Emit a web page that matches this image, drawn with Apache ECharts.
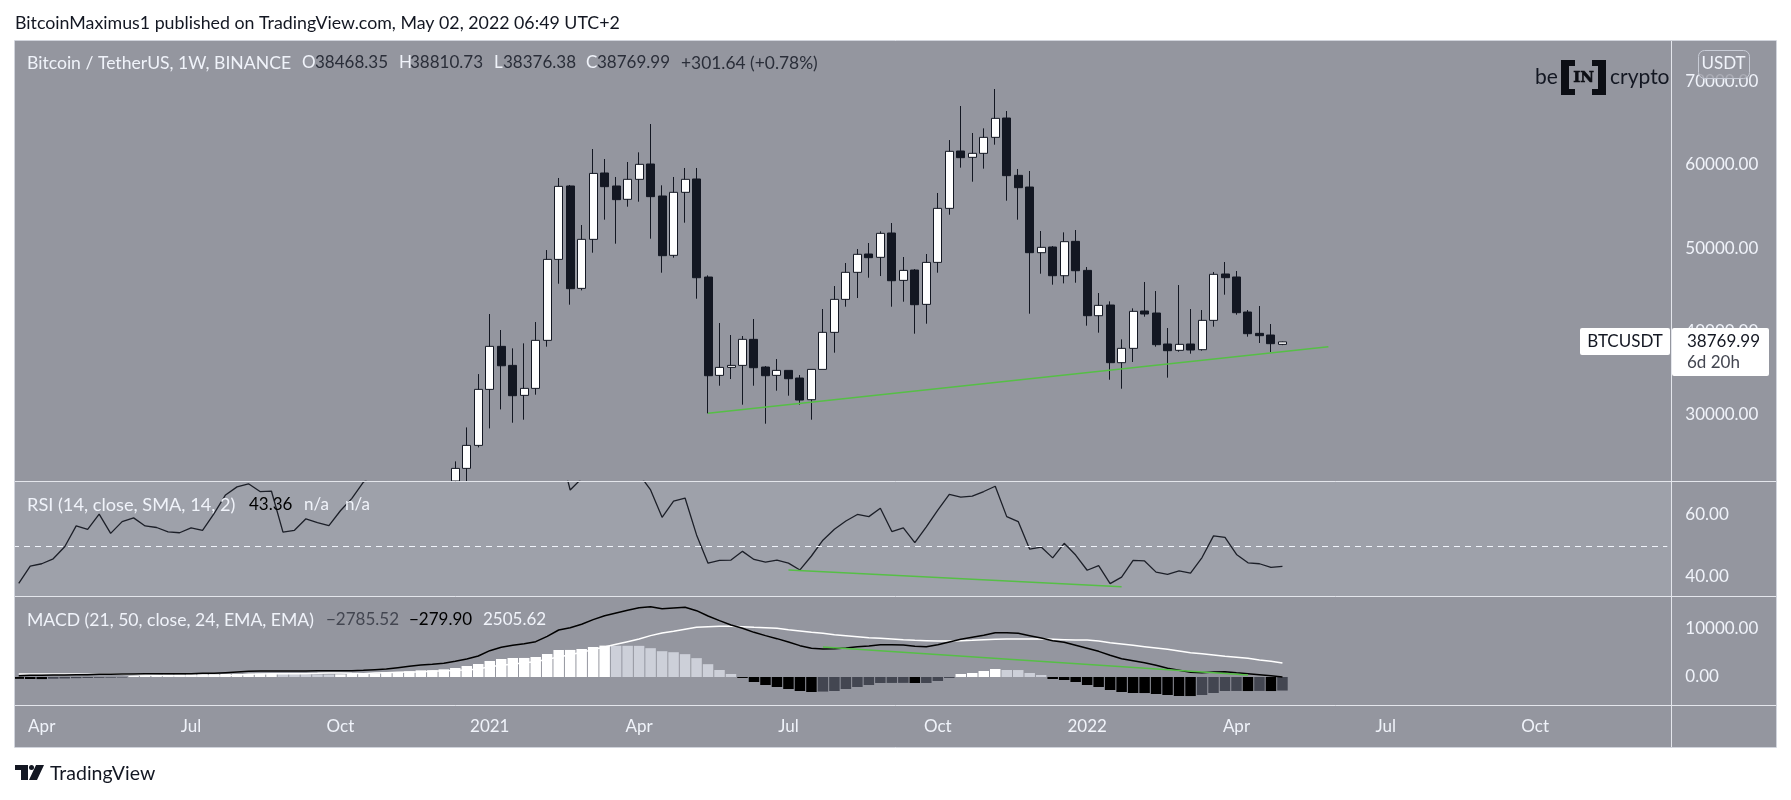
<!DOCTYPE html>
<html>
<head>
<meta charset="utf-8">
<style>
  html, body { margin: 0; background: #fff; }
  #chart { width: 1791px; height: 800px; }
</style>
<script src="https://cdn.jsdelivr.net/npm/echarts@6/dist/echarts.min.js"></script>
</head>
<body>
<div id="chart"></div>
<script>
// weekly bars, index 0 is the week of 2020-03-23
const weekCount = 144
const firstCandleWeek = 38

const tickWeeks = [2, 15, 28, 41, 54, 67, 80, 93, 106, 119, 132]
const tickLabels = ['Apr', 'Jul', 'Oct', '2021', 'Apr', 'Jul', 'Oct', '2022', 'Apr', 'Jul', 'Oct']

// first two bars run out of the bottom of the price pane, so they stop at the pane edge
const candleOpen = [22065, 23580, 26340, 33065, 38230, 35945, 32345, 33185, 38950, 48670, 57480, 45190, 51075,
  59040, 57480, 55880, 58280, 60120, 56280, 49155, 56720, 58320, 46550, 34745, 35705, 35945, 39070, 35745, 34745,
  35345, 34425, 31825, 35465, 39910, 43870, 47115, 49315, 48915, 51835, 46150, 47390, 43270, 48310, 54795, 61680,
  60920, 61400, 63320, 65640, 58760, 57355, 49475, 50155, 46710, 50835, 47350, 41910, 43190, 36270, 37990, 42470,
  42230, 38510, 37750, 38510, 37830, 41350, 46915, 46555, 42350, 39790, 39590, 38468.35]
const candleClose = [23580, 26340, 33065, 38230, 35900, 32305, 33185, 38950, 48670, 57435, 45150, 51075, 58990,
  57400, 55840, 58280, 60080, 56200, 49115, 56720, 58280, 46470, 34705, 35705, 35945, 39070, 35665, 34705, 35345,
  34345, 31785, 35465, 39910, 43870, 47115, 49275, 48875, 51795, 46110, 47350, 43230, 48310, 54795, 61640, 60880,
  61400, 63320, 65600, 58720, 57280, 49475, 50115, 46710, 50795, 47310, 41910, 43150, 36270, 37990, 42430, 42110,
  38430, 37710, 38470, 37790, 41350, 46875, 46475, 42270, 39750, 39510, 38550, 38769.99]
const candleHigh = [24420, 28500, 34900, 42110, 40190, 37990, 38590, 41150, 49790, 58440, 57600, 52795, 61920,
  60720, 58560, 60360, 61520, 64920, 57560, 58560, 59640, 59640, 46750, 41030, 39590, 39470, 41510, 35865, 36705,
  35345, 34785, 35465, 42710, 45470, 48235, 49915, 50635, 52035, 53035, 48955, 47510, 49315, 56640, 62995, 67080,
  63840, 64400, 69120, 66480, 59520, 59280, 52075, 50275, 51915, 52195, 47750, 44630, 43630, 39070, 42790, 45955,
  44870, 40430, 45590, 42710, 42590, 47155, 48355, 47275, 42590, 43070, 40910, 38810.73]
const candleLow = [22065, 22065, 26100, 28380, 30660, 29060, 29425, 32425, 38190, 45750, 43230, 44950, 49470,
  53435, 50555, 54995, 55595, 51155, 47070, 48875, 53075, 43950, 30185, 33505, 34305, 31225, 33505, 28945, 32905,
  32305, 31225, 29425, 35465, 37470, 42990, 44030, 46470, 46670, 42990, 43590, 39750, 40950, 47070, 54035, 59680,
  57995, 59560, 62440, 55715, 53435, 42150, 46950, 45630, 45790, 45870, 40710, 39870, 34225, 33145, 36350, 41790,
  38190, 34470, 37590, 37350, 37710, 40590, 44430, 42030, 39390, 38630, 37550, 38376.38]

const rsiValues = [37.9, 43.45, 44.2, 45.8, 49.7, 56.4, 55.3, 60.2, 54.0, 57.8,
  59.0, 56.4, 55.9, 54.5, 54.2, 55.8, 55.0, 60.4, 66.4, 69.0,
  70.0, 67.5, 67.6, 54.4, 55.0, 58.7, 57.5, 56.5, 61.3, 65.3,
  70.5, 73.4, 78, 80, 82, 79, 80, 84, 86, 88,
  90, 92, 89, 85, 84, 86, 88, 82.5, 68.0, 71.7,
  75, 76, 74, 75, 73.1, 68.0, 59.2, 64.4, 65.4, 53.5,
  44.4, 45.3, 45.4, 48.2, 45.6, 44.7, 45.4, 44.4, 42.2, 46.7,
  51.8, 55.3, 58.0, 60.1, 59.4, 62.1, 54.6, 55.8, 51.0, 56.1,
  61.5, 66.6, 65.7, 66.0, 67.5, 69.2, 59.4, 57.8, 48.9, 49.6,
  46.1, 50.8, 47.0, 42.1, 43.6, 37.8, 39.9, 45.3, 45.1, 41.5,
  40.8, 41.9, 41.2, 46.2, 53.2, 52.7, 47.2, 44.5, 44.2, 43.0, 43.36]

const macdLine = [270, 340, 340, 410, 410, 480, 480, 550, 550, 620,
  620, 690, 690, 690, 690, 690, 750, 750, 890, 1030,
  1170, 1230, 1230, 1230, 1230, 1230, 1270, 1300, 1300, 1300,
  1370, 1510, 1650, 1920, 2200, 2470, 2610, 2810, 3220, 3700,
  4320, 5420, 6110, 6520, 6860, 7270, 8370, 9670, 10150, 10840,
  11800, 12620, 13170, 13720, 14270, 14470, 14060, 14200, 14340, 13650,
  12550, 11590, 10700, 10020, 9190, 8510, 7890, 7200, 6450, 5900,
  5760, 5830, 5970, 6240, 6380, 6650, 6650, 6590, 6310, 6240,
  6650, 7200, 7750, 8160, 8580, 9120, 9120, 8990, 8510, 8030,
  7480, 7130, 6520, 5900, 5280, 4460, 3770, 3360, 2950, 2400,
  1780, 1370, 960, 890, 1030, 1100, 890, 690, 480, 270, 0]
const signalLine = [620, 620, 620, 620, 620, 620, 550, 550, 550, 550,
  480, 410, 340, 270, 210, 210, 210, 210, 270, 340,
  550, 620, 690, 690, 690, 690, 750, 820, 820, 750,
  690, 820, 890, 960, 1030, 1030, 1230, 1230, 1370, 1440,
  1650, 2130, 2400, 2610, 2950, 3160, 3640, 4120, 4600, 5080,
  5630, 6170, 6720, 7270, 7820, 8510, 9060, 9400, 9810, 10220,
  10360, 10430, 10430, 10360, 10220, 10150, 10020, 9740, 9470, 9190,
  8990, 8710, 8510, 8300, 8090, 7960, 7820, 7680, 7550, 7480,
  7410, 7410, 7480, 7550, 7680, 7750, 7820, 7820, 7820, 7820,
  7750, 7680, 7610, 7610, 7410, 7070, 6790, 6520, 6240, 5970,
  5690, 5350, 5010, 4800, 4530, 4250, 4050, 3840, 3500, 3220, 2880]
const macdHist = [-380, -410, -430, -350, -300, -240, -200, -160, -130, -100,
  200, 340, 410, 480, 490, 550, 560, 570, 620, 630,
  640, 690, 700, 640, 600, 560, 540, 510, 550, 620,
  690, 760, 960, 1030, 1170, 1370, 1390, 1580, 1850, 2260,
  2680, 3290, 3700, 3910, 3920, 4120, 4730, 5560, 5570, 5760,
  6170, 6460, 6430, 6420, 6410, 5930, 5310, 5100, 4700, 3880,
  2640, 1440, 620, -200, -1030, -1650, -2060, -2470, -2880, -3090,
  -3000, -2880, -2470, -2060, -1650, -1230, -1220, -1210, -1240, -1230,
  -820, -200, 620, 820, 1230, 1650, 1440, 1430, 820, 410,
  -410, -620, -1030, -1650, -2060, -2680, -3090, -3290, -3300, -3500,
  -3700, -3910, -3920, -3700, -3290, -2880, -2870, -2890, -2860, -2890, -2785.52]

// drawn trend lines, [week, value]
const priceTrend = [[60, 30185], [114, 38190]]
const rsiTrend = [[67, 42.2], [96, 36.8]]
const macdTrend = [[70, 6170], [107, 410]]

const priceTicks = [30000, 40000, 50000, 60000, 70000]
const rsiTicks = [40, 60]
const macdTicks = [0, 10000]

const weeks = []
for (let i = 0; i < weekCount; i++) {
  weeks.push(new Date(Date.UTC(2020, 2, 23 + i * 7)).toISOString().slice(0, 10))
}

const candles = weeks.map((w, i) => {
  const k = i - firstCandleWeek
  if (k < 0 || k >= candleOpen.length) return '-'
  return [candleOpen[k], candleClose[k], candleLow[k], candleHigh[k]]
})

const FONT = 'Lato'
const INK = '#131722'
const PALE = '#f0f3fa'
const GRID_LEFT = 13
const GRID_WIDTH = 1654.3
const PANEL_LEFT = 15
const PANEL_RIGHT = 1776
const AXIS_X = 1671

// TradingView colours the histogram by direction of change
function histColor(i) {
  const v = macdHist[i]
  const prev = i > 0 ? macdHist[i - 1] : 0
  if (v >= 0) return v >= prev ? '#ffffff' : '#cdd0d9'
  return v <= prev ? '#000000' : '#434651'
}

function txt(x, y, text, fill, size, extra) {
  return {
    type: 'text', x, y, z: 100, silent: true,
    style: Object.assign({ text, fill, font: (size || 17) + 'px ' + FONT, textVerticalAlign: 'middle' }, extra || {})
  }
}
function hline(y) {
  return { type: 'line', z: 60, silent: true, shape: { x1: PANEL_LEFT, y1: y, x2: PANEL_RIGHT, y2: y }, style: { stroke: '#e4e6ec', lineWidth: 1 } }
}
function box(x, y, w, h, fill, z, r) {
  return { type: 'rect', z, silent: true, shape: { x, y, width: w, height: h, r: r || 0 }, style: { fill } }
}

const chartBack = [
  box(PANEL_LEFT, 41, PANEL_RIGHT - PANEL_LEFT, 706, '#94969f', -2),
  box(PANEL_LEFT, 481, AXIS_X - PANEL_LEFT, 115, '#9ea1aa', -1),
  box(0, 41, PANEL_LEFT, 706, '#ffffff', 50),
  hline(481.5), hline(596.5), hline(705.5),
  { type: 'line', z: 60, silent: true, shape: { x1: AXIS_X + 0.5, y1: 41, x2: AXIS_X + 0.5, y2: 747 }, style: { stroke: '#e4e6ec', lineWidth: 1 } },
  { type: 'rect', z: 60, silent: true, shape: { x: PANEL_LEFT - 0.5, y: 40.5, width: PANEL_RIGHT - PANEL_LEFT + 1, height: 707 }, style: { fill: 'none', stroke: '#d1d4dc', lineWidth: 1 } }
]

const HEAD = 17.6
const headerTexts = [
  txt(15, 23.5, 'BitcoinMaximus1 published on TradingView.com, May 02, 2022 06:49 UTC+2', INK, 17.8),
  txt(27, 63, 'Bitcoin / TetherUS, 1W, BINANCE', PALE, HEAD),
  txt(302, 63, 'O', PALE, 17), txt(315, 63, '38468.35', '#2a2e39', 17),
  txt(399, 63, 'H', PALE, 17), txt(410, 63, '38810.73', '#2a2e39', 17),
  txt(494, 63, 'L', PALE, 17), txt(503, 63, '38376.38', '#2a2e39', 17),
  txt(586, 63, 'C', PALE, 17), txt(597, 63, '38769.99', '#2a2e39', 17),
  txt(681, 63, '+301.64 (+0.78%)', '#2a2e39', 17.4),
  txt(27, 505, 'RSI (14, close, SMA, 14, 2)', PALE, 18.2),
  txt(249, 505, '43.36', '#000', 17), txt(304, 505, 'n/a', PALE, 17), txt(345, 505, 'n/a', PALE, 17),
  txt(27, 620, 'MACD (21, 50, close, 24, EMA, EMA)', PALE, HEAD),
  txt(326, 620, '\u22122785.52', '#434651', 17), txt(409, 620, '\u2212279.90', '#000', 17), txt(483, 620, '2505.62', PALE, 17)
]

const priceTags = [
  box(1580, 328, 90, 27, '#fff', 90, 2),
  txt(1625, 342, 'BTCUSDT', INK, 17, { textAlign: 'center' }),
  box(1672, 328, 97, 48, '#fff', 90, 2),
  txt(1687, 342, '38769.99', INK, 17),
  txt(1687, 363, '6d 20h', '#434651', 17),
  { type: 'rect', z: 90, silent: true, shape: { x: 1698.5, y: 50.5, width: 51, height: 28, r: 6 }, style: { fill: 'rgba(148,150,159,0.75)', stroke: '#c8ccd6', lineWidth: 1 } },
  txt(1723.5, 64, 'USDT', PALE, 17, { textAlign: 'center' })
]

const BLACK = '#0c0e14'
const logos = [
  txt(1535, 77, 'be', INK, 21),
  box(1561, 60, 8, 35, BLACK, 100), box(1561, 60, 14, 6, BLACK, 100), box(1561, 89, 14, 6, BLACK, 100),
  box(1598, 60, 8, 35, BLACK, 100), box(1592, 60, 14, 6, BLACK, 100), box(1592, 89, 14, 6, BLACK, 100),
  txt(1583.5, 78, 'IN', BLACK, 15, { textAlign: 'center', font: 'bold 15px "DejaVu Serif"', stroke: BLACK, lineWidth: 0.6 }),
  txt(1610, 77, 'crypto', INK, 21),
  { type: 'polygon', z: 100, silent: true, shape: { points: [[15, 765], [28, 765], [28, 780], [21, 780], [21, 770], [15, 770]] }, style: { fill: INK } },
  { type: 'circle', z: 100, silent: true, shape: { cx: 31.5, cy: 767.5, r: 2.5 }, style: { fill: INK } },
  { type: 'polygon', z: 100, silent: true, shape: { points: [[36, 765], [44, 765], [37, 780], [29, 780]] }, style: { fill: INK } },
  txt(50, 774, 'TradingView', INK, 19.5)
]

function trendSeries(data, axis) {
  return {
    type: 'line', data, xAxisIndex: axis, yAxisIndex: axis, z: 5, silent: true,
    showSymbol: false, lineStyle: { color: '#56bf46', width: 1.5 }
  }
}
function lineSeries(data, axis, color, width) {
  return {
    type: 'line', data, xAxisIndex: axis, yAxisIndex: axis, z: 4, silent: true,
    showSymbol: false, lineStyle: { color, width }
  }
}

const yAxisBase = {
  type: 'value', position: 'right', scale: false,
  axisLine: { show: false }, axisTick: { show: false }, splitLine: { show: false }
}
function yLabels(values) {
  return {
    customValues: values, margin: 18, color: PALE, fontFamily: FONT, fontSize: 17,
    formatter: v => v.toFixed(2)
  }
}
const xAxisBase = { type: 'category', data: weeks, boundaryGap: true, axisLine: { show: false }, axisTick: { show: false }, splitLine: { show: false } }

const chart = echarts.init(document.getElementById('chart'), null, { renderer: 'canvas' })
chart.setOption({
  animation: false,
  backgroundColor: '#ffffff',
  grid: [
    { left: GRID_LEFT, top: 41, width: GRID_WIDTH, height: 440 },
    { left: GRID_LEFT, top: 481.3, width: GRID_WIDTH, height: 115 },
    { left: GRID_LEFT, top: 596.3, width: GRID_WIDTH, height: 109 }
  ],
  xAxis: [
    Object.assign({ gridIndex: 0, axisLabel: { show: false } }, xAxisBase),
    Object.assign({ gridIndex: 1, axisLabel: { show: false } }, xAxisBase),
    Object.assign({
      gridIndex: 2,
      axisLabel: {
        color: PALE, fontFamily: FONT, fontSize: 17, margin: 13,
        interval: i => tickWeeks.includes(i),
        formatter: (v, i) => tickLabels[tickWeeks.indexOf(i)] || ''
      }
    }, xAxisBase)
  ],
  yAxis: [
    Object.assign({ gridIndex: 0, min: 22065, max: 74886, axisLabel: yLabels(priceTicks) }, yAxisBase),
    Object.assign({ gridIndex: 1, min: 33.7, max: 70.8, axisLabel: yLabels(rsiTicks) }, yAxisBase),
    Object.assign({ gridIndex: 2, min: -5823, max: 16605, axisLabel: yLabels(macdTicks) }, yAxisBase)
  ],
  series: [
    {
      type: 'candlestick', data: candles, xAxisIndex: 0, yAxisIndex: 0, barWidth: 8.5, silent: true,
      itemStyle: { color: '#ffffff', color0: INK, borderColor: INK, borderColor0: INK, borderWidth: 1 }
    },
    trendSeries(priceTrend, 0),
    Object.assign(lineSeries(rsiValues, 1, '#1c1f28', 1.3), {
      markLine: {
        silent: true, symbol: 'none', label: { show: false },
        lineStyle: { color: '#f0f3fa', type: [6, 5], width: 1 },
        data: [{ yAxis: 50 }]
      }
    }),
    trendSeries(rsiTrend, 1),
    {
      type: 'bar', data: macdHist, xAxisIndex: 2, yAxisIndex: 2, barWidth: 10.5, silent: true,
      itemStyle: { color: p => histColor(p.dataIndex) }
    },
    lineSeries(signalLine, 2, '#ffffff', 1.5),
    lineSeries(macdLine, 2, '#000000', 1.5),
    trendSeries(macdTrend, 2)
  ],
  graphic: { elements: chartBack.concat(headerTexts, priceTags, logos) }
})
</script>
</body>
</html>
